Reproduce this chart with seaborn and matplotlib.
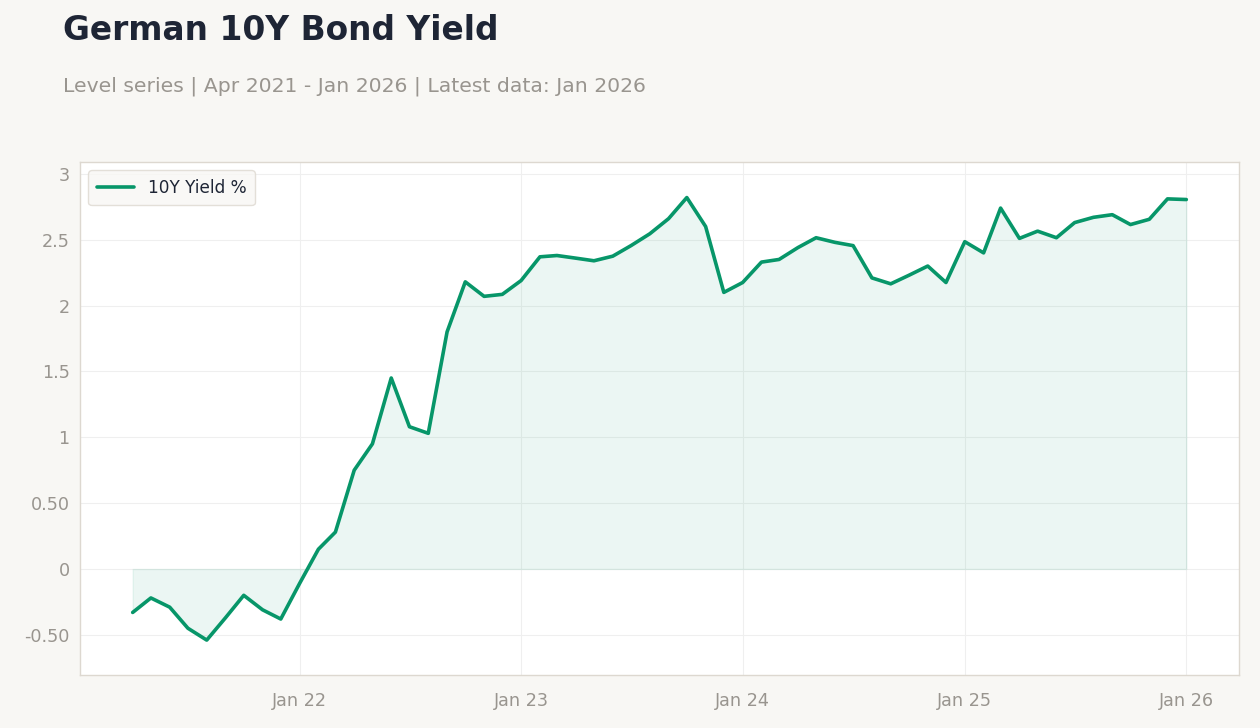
import matplotlib
matplotlib.use("Agg")
import matplotlib.pyplot as plt
import matplotlib.dates as mdates
import numpy as np
import pandas as pd
import seaborn as sns

# monthly German 10Y yield, Apr 2021 - Jan 2026
months = pd.date_range("2021-04-01", "2026-01-01", freq="MS")
yields = [
    -0.33, -0.22, -0.29, -0.45, -0.54, -0.37, -0.20, -0.31, -0.38,
    -0.11, 0.15, 0.28, 0.75, 0.95, 1.45, 1.08, 1.03, 1.80, 2.18, 2.07, 2.085,
    2.19, 2.37, 2.38, 2.36, 2.34, 2.375, 2.455, 2.545, 2.66, 2.82, 2.60, 2.10,
    2.175, 2.33, 2.35, 2.44, 2.515, 2.48, 2.455, 2.21, 2.165, 2.23, 2.30, 2.175,
    2.485, 2.40, 2.74, 2.51, 2.565, 2.515, 2.63, 2.67, 2.69, 2.615, 2.655, 2.81,
    2.805,
]
series_name = "10Y Yield %"
ytick_vals = [-0.5, 0, 0.5, 1, 1.5, 2, 2.5, 3]
ytick_labels = ["-0.50", "0", "0.50", "1", "1.5", "2", "2.5", "3"]

df = pd.DataFrame({"date": months, "value": yields})

bg = "#f8f7f4"
green = "#079669"
grey_txt = "#99958f"
edge = "#ddd8d0"

sns.set_style("whitegrid")
plt.rcParams["font.family"] = ["DejaVu Sans"]

fig = plt.figure(figsize=(12.6, 7.28), dpi=100, facecolor=bg)
ax = fig.add_axes([80 / 1260, 1 - 675 / 728, (1239 - 80) / 1260, (675 - 162) / 728])
ax.set_facecolor("white")

ax.fill_between(df["date"], df["value"], 0, color=green, alpha=0.08, linewidth=1)
sns.lineplot(data=df, x="date", y="value", ax=ax, color=green, linewidth=2.6,
             label=series_name)

ax.set_ylim(-0.805, 3.09)
ax.set_yticks(ytick_vals)
ax.set_yticklabels(ytick_labels)
ax.xaxis.set_major_locator(mdates.YearLocator())
ax.xaxis.set_major_formatter(mdates.DateFormatter("%b %y"))

ax.set_xlabel("")
ax.set_ylabel("")
ax.grid(True, color="#efefef", linewidth=0.8)
for s in ax.spines.values():
    s.set_color(edge)
    s.set_linewidth(1)
ax.tick_params(axis="both", colors=edge, labelcolor=grey_txt, labelsize=12.7,
               length=4, width=1)
ax.tick_params(axis="x", pad=8)

leg = ax.legend(loc="upper left", fontsize=12.2, frameon=True,
                facecolor=bg, edgecolor=edge, borderpad=0.5, handlelength=2.2)
for t in leg.get_texts():
    t.set_color("#1e2535")

fig.text(63 / 1260, 1 - 31 / 728, "German 10Y Bond Yield", fontsize=23.7,
         fontweight="bold", color="#1e2535", va="center", ha="left")
fig.text(63 / 1260, 1 - 86 / 728,
         "Level series | Apr 2021 - Jan 2026 | Latest data: Jan 2026",
         fontsize=14.7, color=grey_txt, va="center", ha="left")

fig.savefig("out.png", dpi=100, facecolor=bg)
